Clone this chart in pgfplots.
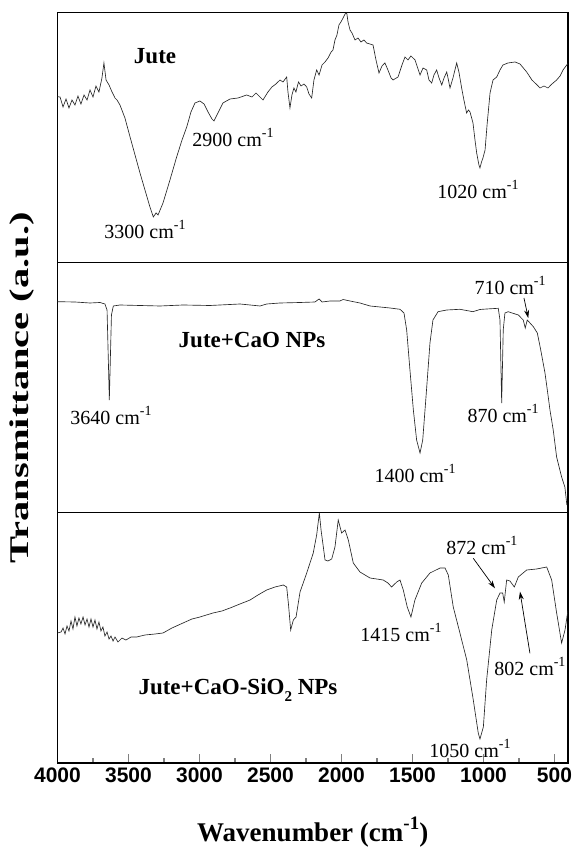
\documentclass[border=0pt]{standalone}
\usepackage{fontspec}
\setmainfont{Liberation Serif}
\newfontfamily\arialfont{Liberation Sans}
\newfontfamily\yfont[FakeStretch=1.5]{Liberation Serif}
\usepackage{pgfplots}
\pgfplotsset{compat=1.18}
\usetikzlibrary{arrows.meta}

\newcommand{\supm}{\raisebox{0.45em}{\fontsize{14}{14}\selectfont -1}}
\newcommand{\ann}[1]{\fontsize{20}{22}\selectfont #1 cm\supm}
\newcommand{\lbl}[1]{\fontsize{23}{25}\selectfont\bfseries #1}

\pgfplotsset{
  panel/.style={
    scale only axis, width=510.5pt, height=250pt,
    x dir=reverse, xmin=405, xmax=4000, ymin=0, ymax=250,
    ytick=\empty, xtick=\empty,
    axis line style={line width=1.6pt},
  },
  spec/.style={line width=0.65pt, color=black!85, mark=none},
}

\begin{document}
\begin{tikzpicture}
% ---------------- bottom panel ----------------
\begin{axis}[panel, at={(0pt,0pt)}, anchor=south west,
  xtick={500,1000,...,4000}, minor x tick num=1,
  xtick pos=bottom, tick align=inside,
  major tick length=9pt, minor tick length=5pt,
  major tick style={line width=1.2pt}, minor tick style={line width=1.2pt},
  /pgf/number format/1000 sep={},
  /pgf/number format/assume math mode=true,
  xticklabel style={font=\arialfont\bfseries\fontsize{21}{21}\selectfont, inner sep=0pt, yshift=-5pt},
  xlabel={\fontsize{27}{29}\selectfont\bfseries Wavenumber (cm\raisebox{0.45em}{\fontsize{19}{19}\selectfont -1})},
  xlabel style={at={(axis description cs:0.5,0)}, anchor=center, yshift=-69pt},
]
\addplot[spec] coordinates {
(4000,129.7)(3975,130.7)(3961,134.7)(3947,128.7)(3933,136.7)(3919,131.7)(3905,141.7)(3891,133.7)
(3877,145.7)(3863,136.7)(3849,144.7)(3835,138.7)(3820,145.7)(3806,137.7)(3792,143.7)(3778,135.7)
(3764,143.7)(3750,135.7)(3736,142.7)(3722,133.7)(3708,140.7)(3694,131.7)(3680,135.7)(3666,126.7)
(3651,130.7)(3637,123.7)(3623,126.7)(3609,121.7)(3595,125.7)(3574,120.7)(3546,124.7)(3518,122.7)
(3482,125.7)(3442,125.7)(3384,127.7)(3313,128.7)(3257,129.7)(3194,134.7)(3116,139.7)(3053,143.7)
(2997,145.7)(2905,149.7)(2842,151.7)(2785,154.7)(2715,158.7)(2644,162.7)(2588,167.7)(2527,172.7)
(2468,175.7)(2410,177.7)(2386,175.7)(2373,157.7)(2358,132.7)(2339,142.7)(2320,145.7)(2292,170.7)
(2245,189.7)(2199,209.7)(2175,227.7)(2156,249.7)(2144,232.7)(2128,215.7)(2116,202.7)(2095,201.7)
(2069,203.7)(2046,215.7)(2023,242.7)(1999,229.7)(1975,232.7)(1952,222.7)(1917,199.7)(1870,190.7)
(1799,184.7)(1706,182.7)(1673,179.7)(1647,175.7)(1611,180.7)(1588,182.7)(1565,172.7)(1537,155.7)
(1511,145.7)(1483,162.7)(1435,179.7)(1377,189.7)(1306,194.7)(1271,194.7)(1248,187.7)(1213,155.7)
(1166,129.7)(1118,102.7)(1072,62.7)(1037,29.7)(1025,23.7)(1001,35.7)(978,82.7)(942,132.7)
(907,162.7)(884,169.7)(865,169.7)(854,160.7)(837,182.7)(814,181.7)(783,175.7)(755,185.7)
(696,192.7)(626,193.7)(555,195.7)(520,182.7)(485,149.7)(450,119.7)(426,132.7)(405,152.7)
};
\node[font=\lbl{}] at (axis cs:2729,72.7) {Jute+CaO-SiO\raisebox{-0.3em}{\fontsize{15}{15}\selectfont 2} NPs};
\node at (axis cs:1581,130.7) {\ann{1415}};
\node at (axis cs:1011,217.7) {\ann{872}};
\node at (axis cs:673,96.7) {\ann{802}};
\node at (axis cs:1095,14.7) {\ann{1050}};
\draw[line width=0.7pt, -{Stealth[length=8pt,width=5pt]}] (axis cs:1072,204.4) -- (axis cs:919,174.4);
\draw[line width=0.7pt, -{Stealth[length=8pt,width=5pt]}] (axis cs:673,109.4) -- (axis cs:743,171);
\end{axis}
% ---------------- middle panel ----------------
\begin{axis}[panel, at={(0pt,250pt)}, anchor=south west,
  ylabel={\yfont\fontsize{27}{29}\selectfont\bfseries Transmittance (a.u.)},
  ylabel style={at={(axis description cs:0,0.5)}, anchor=center, yshift=35.5pt},
]
\addplot[spec] coordinates {
(4000,211)(3877,210.7)(3771,209.7)(3701,210.2)(3666,208.7)(3651,202.7)(3642,152.7)(3635,112.7)
(3628,152.7)(3620,197.7)(3607,206.7)(3560,207.7)(3419,207.2)(3278,206.7)(3116,207.7)(2926,207.2)
(2715,208.7)(2574,206.7)(2527,208.7)(2433,209.7)(2292,210.2)(2187,210.7)(2158,213.7)(2137,210.7)
(2081,211.7)(2011,211.7)(1989,213.2)(1940,211.7)(1870,209.7)(1799,206.7)(1729,205.7)(1658,204.7)
(1588,203.4)(1560,199.7)(1541,182.7)(1518,142.7)(1494,102.7)(1471,72.7)(1447,59.7)(1428,72.7)
(1405,115.7)(1377,169.7)(1356,192.7)(1320,201)(1259,202.7)(1166,203.4)(1074,201)(1025,203.2)
(978,203.7)(896,204.4)(884,192.7)(872,109.7)(861,182.7)(849,199.7)(826,201)(755,197.7)
(720,192.7)(706,184.7)(692,192.7)(649,186)(621,179.7)(597,162.7)(567,139.7)(544,115.7)
(532,102.7)(509,82.7)(485,55.7)(450,35.7)(427,25.7)(413,7.7)
};
\node[font=\lbl{}] at (axis cs:2630,172.7) {Jute+CaO NPs};
\node at (axis cs:3623,97.7) {\ann{3640}};
\node at (axis cs:1482,39.7) {\ann{1400}};
\node at (axis cs:862,99.7) {\ann{870}};
\node at (axis cs:813,227.7) {\ann{710}};
\draw[line width=0.7pt, -{Stealth[length=8pt,width=5pt]}] (axis cs:715,214.7) -- (axis cs:685,194.7);
\end{axis}
% ---------------- top panel ----------------
\begin{axis}[panel, at={(0pt,500pt)}, anchor=south west]
\addplot[spec] coordinates {
(4000,166)(3982,165.7)(3961,155.7)(3940,163.7)(3919,154.7)(3898,162.7)(3877,157.7)(3856,166.7)
(3835,158.7)(3813,167.7)(3792,162.7)(3771,172.7)(3750,165.7)(3729,176.7)(3708,170.7)(3687,184.7)
(3673,199.7)(3658,182.7)(3637,177.7)(3616,170.7)(3595,164.7)(3581,162.7)(3560,157.7)(3525,144.7)
(3489,125.7)(3454,107.7)(3419,89.7)(3384,72.7)(3349,55.7)(3325,45.7)(3306,49.7)(3292,47.7)
(3257,59.7)(3208,82.7)(3161,105.7)(3123,122.7)(3090,135.7)(3060,150.7)(3032,159.7)(2997,161.7)
(2968,158.7)(2940,150.7)(2912,143.7)(2898,141.7)(2870,149.7)(2835,159.7)(2785,163.7)(2729,164.7)
(2668,167.7)(2630,165.7)(2602,169.7)(2574,165.7)(2553,162.7)(2518,170.7)(2490,175.7)(2462,178.7)
(2433,182.7)(2412,180.7)(2386,185.7)(2377,170.7)(2363,154.7)(2349,167.7)(2335,174.7)(2321,170.7)
(2303,180.7)(2285,176.7)(2264,178.7)(2245,175.7)(2229,168.7)(2210,164.7)(2194,182.7)(2175,192.7)
(2158,187.7)(2137,197.7)(2116,200.7)(2095,204.7)(2073,210.7)(2060,212.7)(2046,222.7)(2032,227.7)
(2018,237.7)(2004,240.7)(1989,244.7)(1975,248.7)(1963,249.7)(1954,240.7)(1940,232.7)(1926,229.7)
(1905,222.7)(1884,224.7)(1863,220.7)(1842,222.7)(1823,219.7)(1778,217.7)(1757,202.7)(1736,189.7)
(1715,196.7)(1694,199.7)(1673,192.7)(1651,184.7)(1637,182.7)(1602,185.7)(1574,197.7)(1553,205.7)
(1532,202.7)(1511,206.7)(1482,202.7)(1447,187.7)(1426,194.7)(1400,192.7)(1384,182.7)(1365,179.7)
(1349,187.7)(1330,192.7)(1313,184.7)(1294,177.7)(1278,184.7)(1259,190.7)(1247,182.7)(1236,174.7)
(1215,184.7)(1189,199.7)(1173,190.7)(1154,174.7)(1138,162.7)(1119,149.7)(1106,152.7)(1095,150.7)
(1074,139.7)(1060,122.7)(1048,109.7)(1039,102.7)(1032,97.7)(1025,94.7)(1014,100.7)(1004,104.7)
(989,112.7)(975,137.7)(954,169.7)(933,182.7)(907,185.7)(884,192.7)(863,197.7)(828,199.7)
(778,200.7)(743,198.7)(696,190.7)(659,182.7)(630,178.7)(602,174.7)(574,176.7)(546,174.7)
(518,178.7)(485,182.7)(461,186.7)(440,192.7)(414,197.7)(405,199)
};
\node[font=\lbl{}] at (axis cs:3313,206.7) {Jute};
\node at (axis cs:2764,125.7) {\ann{2900}};
\node at (axis cs:3384,33.7) {\ann{3300}};
\node at (axis cs:1039,73.7) {\ann{1020}};
\end{axis}
\pgfresetboundingbox
\path (-57.5pt,-88.3pt) rectangle (516.5pt,762.7pt);
\end{tikzpicture}
\end{document}
